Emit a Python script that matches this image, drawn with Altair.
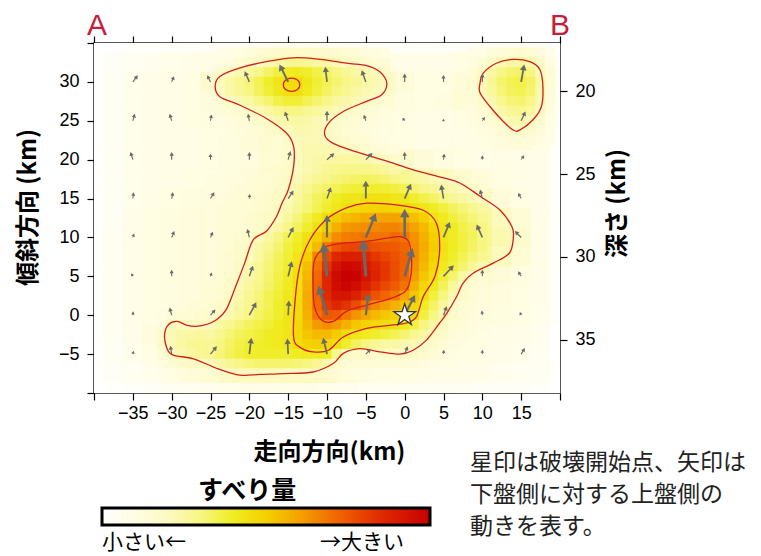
import altair as alt
import pandas as pd
import numpy as np

# ---------------- data ----------------
# coarse slip grid (2.5 km cells) over the whole fault plane
grid_x = [-40, -37.5, -35, -32.5, -30, -27.5, -25, -22.5, -20, -17.5, -15, -12.5,
          -10, -7.5, -5, -2.5, 0, 2.5, 5, 7.5, 10, 12.5, 15, 17.5, 20]
grid_y = [35, 32.5, 30, 27.5, 25, 22.5, 20, 17.5, 15, 12.5, 10, 7.5, 5, 2.5, 0,
          -2.5, -5, -7.5, -10]
slip = [
    [0, 0, 1, 1, 2, 2, 3, 3, 4, 5, 6, 6, 5, 4, 3, 2, 2, 2, 2, 3, 4, 5, 5, 4, 1],
    [1, 3, 5, 6, 7, 8, 9, 11, 14, 19, 22, 22, 21, 19, 14, 10, 8, 8, 8, 10, 13, 17, 21, 16, 3],
    [1, 4, 7, 8, 9, 10, 17, 24, 29, 36, 44, 40, 33, 28, 24, 20, 13, 10, 10, 13, 20, 28, 34, 22, 4],
    [1, 4, 7, 8, 9, 10, 12, 19, 24, 30, 35, 33, 28, 24, 20, 15, 11, 10, 11, 14, 19, 29, 33, 21, 4],
    [1, 4, 7, 8, 9, 10, 11, 13, 16, 20, 25, 25, 21, 16, 13, 11, 10, 9, 9, 10, 14, 20, 23, 16, 3],
    [1, 4, 7, 8, 9, 9, 10, 11, 13, 16, 20, 23, 21, 18, 14, 11, 10, 9, 9, 9, 10, 12, 13, 10, 2],
    [1, 4, 7, 8, 9, 9, 10, 11, 12, 15, 19, 23, 25, 25, 23, 19, 17, 13, 11, 10, 9, 9, 9, 8, 2],
    [1, 4, 7, 8, 9, 10, 10, 11, 13, 16, 20, 25, 29, 32, 33, 31, 27, 23, 21, 16, 12, 10, 9, 8, 2],
    [1, 4, 7, 9, 10, 11, 12, 13, 15, 18, 21, 27, 35, 41, 44, 44, 42, 36, 30, 25, 20, 13, 10, 8, 2],
    [1, 4, 8, 10, 11, 12, 13, 14, 16, 19, 24, 35, 46, 53, 57, 58, 56, 47, 38, 31, 26, 21, 14, 9, 2],
    [1, 5, 8, 10, 11, 12, 13, 15, 19, 24, 33, 44, 58, 68, 71, 72, 70, 58, 43, 33, 27, 23, 17, 9, 2],
    [1, 5, 8, 10, 11, 12, 14, 17, 21, 26, 36, 48, 78, 88, 85, 80, 74, 58, 42, 32, 26, 21, 15, 9, 2],
    [1, 5, 8, 10, 11, 12, 14, 17, 23, 28, 37, 50, 88, 100, 92, 84, 72, 54, 36, 25, 17, 13, 11, 8, 2],
    [1, 5, 8, 10, 11, 12, 15, 19, 26, 32, 40, 55, 82, 88, 82, 75, 66, 45, 30, 19, 14, 12, 10, 8, 2],
    [1, 5, 8, 10, 11, 14, 18, 23, 29, 34, 40, 52, 72, 69, 62, 55, 48, 36, 22, 15, 12, 11, 10, 7, 2],
    [1, 5, 8, 12, 21, 23, 26, 31, 36, 38, 42, 50, 52, 44, 38, 36, 32, 24, 16, 12, 10, 9, 8, 6, 1],
    [1, 4, 7, 10, 20, 24, 28, 33, 38, 38, 40, 43, 40, 26, 19, 19, 20, 15, 11, 10, 9, 8, 7, 5, 1],
    [1, 3, 5, 7, 10, 13, 16, 19, 21, 21, 21, 21, 19, 14, 11, 10, 10, 9, 8, 8, 7, 6, 5, 4, 1],
    [0, 1, 2, 3, 4, 5, 6, 7, 8, 8, 8, 8, 7, 6, 5, 5, 4, 4, 4, 4, 3, 3, 3, 2, 0],
]

# finer slip grids (1.25 km cells) read over the slip patches
main_x = [-25, -23.75, -22.5, -21.25, -20, -18.75, -17.5, -16.25, -15, -13.75, -12.5, -11.25,
          -10, -8.75, -7.5, -6.25, -5, -3.75, -2.5, -1.25, 0, 1.25, 2.5, 3.75, 5, 6.25, 7.5,
          8.75, 10]
main_y = [17.5, 16.25, 15, 13.75, 12.5, 11.25, 10, 8.75, 7.5, 6.25, 5, 3.75, 2.5, 1.25, 0,
          -1.25, -2.5, -3.75, -5, -6.25, -7.5]
main_slip = [
    [11, 11, 12, 12, 13, 14, 15, 17, 19, 22, 25, 27, 29, 31, 32, 33, 34, 33, 32, 30, 28, 26, 24, 22, 21, 19, 17, 15, 13],
    [11, 11, 12, 13, 14, 15, 16, 18, 20, 24, 28, 31, 33, 35, 37, 38, 39, 39, 38, 37, 35, 32, 29, 27, 25, 23, 21, 19, 16],
    [12, 12, 13, 14, 15, 16, 17, 19, 21, 26, 30, 34, 37, 40, 42, 43, 44, 44, 44, 43, 42, 39, 36, 33, 30, 27, 25, 22, 20],
    [12, 13, 14, 14, 15, 16, 18, 20, 23, 27, 31, 35, 39, 42, 45, 47, 48, 49, 49, 48, 47, 45, 43, 40, 37, 34, 31, 28, 25],
    [12, 13, 14, 15, 16, 17, 19, 21, 26, 31, 36, 41, 46, 51, 54, 56, 58, 59, 60, 60, 58, 54, 50, 44, 41, 37, 34, 31, 28],
    [12, 13, 14, 15, 16, 18, 20, 24, 29, 34, 39, 44, 50, 57, 62, 63, 64, 65, 66, 66, 64, 60, 55, 48, 43, 40, 36, 33, 30],
    [12, 13, 15, 16, 18, 21, 25, 30, 35, 39, 44, 50, 57, 64, 67, 68, 69, 69, 69, 71, 69, 63, 57, 50, 43, 40, 37, 34, 30],
    [12, 13, 15, 17, 20, 24, 28, 32, 37, 41, 46, 55, 68, 75, 78, 79, 78, 76, 75, 74, 72, 64, 58, 51, 44, 40, 37, 33, 30],
    [12, 14, 16, 18, 21, 25, 30, 34, 38, 43, 50, 66, 78, 86, 89, 89, 86, 82, 79, 76, 73, 64, 57, 49, 43, 39, 35, 31, 28],
    [12, 14, 16, 19, 23, 27, 31, 35, 39, 44, 54, 69, 83, 93, 97, 96, 91, 86, 82, 77, 73, 63, 55, 47, 41, 37, 32, 27, 22],
    [12, 14, 17, 20, 24, 28, 32, 36, 40, 45, 56, 71, 86, 96, 100, 99, 93, 87, 82, 77, 72, 61, 52, 45, 38, 32, 25, 18, 15],
    [13, 15, 18, 22, 26, 29, 33, 37, 41, 45, 57, 72, 86, 95, 98, 95, 89, 83, 78, 74, 69, 57, 48, 41, 34, 26, 19, 15, 13],
    [14, 16, 19, 23, 27, 31, 35, 38, 42, 46, 58, 72, 85, 92, 92, 88, 82, 76, 72, 68, 60, 52, 45, 37, 30, 23, 17, 14, 12],
    [15, 18, 21, 25, 28, 32, 35, 39, 42, 46, 58, 71, 82, 86, 83, 77, 70, 65, 61, 57, 53, 48, 40, 33, 26, 18, 15, 13, 12],
    [17, 20, 23, 26, 30, 33, 36, 39, 43, 46, 57, 69, 75, 74, 68, 63, 59, 55, 52, 50, 48, 46, 37, 30, 23, 17, 14, 12, 11],
    [21, 25, 28, 31, 34, 36, 38, 41, 43, 47, 55, 62, 64, 62, 57, 52, 49, 47, 46, 44, 41, 36, 30, 25, 20, 15, 13, 12, 11],
    [25, 28, 31, 34, 36, 38, 40, 41, 43, 47, 52, 55, 55, 51, 46, 43, 41, 39, 37, 35, 32, 28, 25, 21, 17, 13, 12, 11, 10],
    [27, 30, 33, 36, 38, 39, 40, 41, 42, 46, 49, 50, 48, 44, 39, 34, 30, 27, 25, 24, 23, 22, 20, 17, 14, 12, 11, 10, 10],
    [28, 31, 34, 37, 39, 39, 39, 39, 39, 40, 41, 41, 40, 28, 19, 18, 18, 18, 19, 19, 20, 19, 16, 14, 12, 11, 10, 10, 9],
    [21, 24, 27, 29, 31, 32, 32, 32, 32, 31, 30, 27, 23, 18, 15, 14, 14, 14, 14, 14, 14, 13, 12, 11, 10, 10, 9, 9, 9],
    [15, 17, 19, 21, 21, 21, 21, 21, 20, 20, 19, 18, 16, 14, 12, 11, 11, 10, 10, 10, 10, 10, 9, 9, 9, 9, 8, 8, 8],
]

topleft_x = [-23.75, -22.5, -21.25, -20, -18.75, -17.5, -16.25, -15, -13.75, -12.5, -11.25, -10,
             -8.75, -7.5, -6.25, -5, -3.75, -2.5]
topleft_y = [33.75, 32.5, 31.25, 30, 28.75, 27.5, 26.25, 25, 23.75]
topleft_slip = [
    [8, 9, 10, 12, 14, 16, 17, 18, 18, 18, 17, 17, 16, 15, 14, 12, 11, 10],
    [10, 12, 15, 17, 19, 22, 25, 27, 28, 27, 25, 24, 22, 20, 18, 16, 15, 13],
    [16, 20, 23, 26, 29, 33, 37, 40, 41, 39, 36, 33, 30, 27, 25, 23, 21, 18],
    [21, 25, 28, 31, 35, 39, 43, 46, 46, 42, 38, 35, 32, 29, 27, 25, 23, 21],
    [20, 24, 27, 30, 34, 38, 42, 45, 45, 41, 37, 33, 30, 28, 25, 23, 21, 19],
    [15, 19, 22, 25, 29, 32, 36, 38, 38, 35, 32, 29, 26, 24, 22, 20, 17, 15],
    [12, 14, 16, 19, 22, 25, 28, 30, 30, 28, 26, 24, 22, 19, 17, 15, 13, 12],
    [11, 12, 13, 15, 17, 20, 23, 25, 25, 24, 22, 21, 18, 16, 14, 13, 12, 11],
    [10, 11, 12, 13, 15, 17, 19, 21, 23, 23, 22, 20, 17, 15, 13, 12, 11, 10],
]

neck_x = [-16.25, -15, -13.75, -12.5, -11.25, -10, -8.75, -7.5, -6.25, -5, -3.75, -2.5, -1.25]
neck_y = [22.5, 21.25, 20, 18.75]
neck_slip = [
    [15, 18, 21, 22, 22, 21, 19, 17, 15, 14, 12, 11, 10],
    [15, 17, 21, 23, 23, 23, 22, 21, 19, 17, 15, 13, 12],
    [15, 17, 21, 23, 24, 25, 25, 25, 25, 24, 22, 20, 17],
    [16, 18, 21, 23, 25, 27, 28, 29, 29, 29, 28, 26, 24],
]

tail_x = [-31.25, -30, -28.75, -27.5, -26.25]
tail_y = [1.25, 0, -1.25, -2.5, -3.75, -5, -6.25, -7.5]
tail_slip = [
    [10, 11, 12, 13, 14],
    [11, 13, 15, 15, 16],
    [12, 21, 21, 20, 20],
    [17, 22, 24, 25, 26],
    [17, 22, 25, 27, 28],
    [14, 20, 23, 25, 27],
    [11, 14, 17, 19, 20],
    [8, 10, 12, 13, 14],
]

right_x = [8.75, 10, 11.25, 12.5, 13.75, 15, 16.25, 17.5, 18.75]
right_y = [33.75, 32.5, 31.25, 30, 28.75, 27.5, 26.25, 25, 23.75, 22.5]
right_slip = [
    [9, 10, 12, 14, 15, 16, 15, 12, 8],
    [11, 14, 19, 22, 24, 25, 23, 18, 11],
    [14, 20, 25, 29, 32, 33, 30, 21, 13],
    [16, 22, 27, 32, 35, 36, 33, 24, 14],
    [15, 21, 26, 31, 34, 35, 32, 23, 13],
    [13, 18, 23, 28, 31, 32, 29, 22, 12],
    [12, 15, 19, 24, 27, 28, 26, 19, 11],
    [11, 13, 15, 19, 23, 24, 21, 16, 10],
    [10, 11, 12, 15, 18, 19, 17, 13, 9],
    [9, 10, 11, 12, 13, 14, 13, 11, 8],
]

arrow_x = [-35, -30, -25, -20, -15, -10, -5, 0, 5, 10, 15]
arrow_y = [30, 25, 20, 15, 10, 5, 0, -5]
arrow_dx = [
    [0.64, 0.30, -0.43, -0.60, -1.12, -0.22, -0.53, 0.00, 0.00, 0.02, 0.39],
    [0.26, -0.26, 0.13, -0.17, -0.43, 0.00, -0.26, -0.30, 0.00, 0.34, 0.56],
    [-0.30, 0.00, 0.00, 0.00, 0.30, 0.95, 0.86, 0.00, 0.10, 0.00, 0.39],
    [0.10, 0.17, 0.50, 0.05, 0.69, 0.50, 0.00, 0.82, -0.30, -0.30, -0.39],
    [0.17, 0.34, 0.30, -0.26, 0.69, 0.00, 1.29, 0.00, 0.82, -0.73, -0.82],
    [-0.20, 0.00, 0.17, 0.47, 0.47, -0.47, -0.34, 1.03, 1.33, 0.00, -0.39],
    [0.05, -0.26, 0.64, 0.90, 0.10, -1.10, 0.34, 1.33, 0.43, -0.05, -0.17],
    [0.10, -0.17, 0.82, 0.26, -0.10, -0.50, 0.64, 0.39, 0.05, 0.00, 0.47],
]
arrow_dy = [
    [0.86, 0.73, 0.86, 1.37, 2.25, 1.96, 1.50, 1.08, 0.90, 1.08, 2.25],
    [0.90, 0.90, 0.82, 0.90, 1.20, 1.29, 0.77, 0.40, 0.26, 0.47, 1.20],
    [1.00, 1.00, 0.77, 1.00, 1.10, 0.83, 0.86, 1.00, 0.77, 0.56, 0.56],
    [0.82, 0.82, 0.82, 0.60, 1.03, 1.46, 2.30, 1.90, 1.80, 1.16, 0.73],
    [0.50, 0.82, 0.73, 1.10, 1.33, 2.90, 3.10, 3.65, 2.00, 1.67, 0.82],
    [0.40, 0.86, 0.50, 1.37, 1.93, 4.30, 4.70, 3.60, 1.42, 0.86, 0.64],
    [0.50, 1.00, 0.73, 1.67, 1.90, 3.80, 2.80, 2.60, 1.16, 0.60, 0.43],
    [0.43, 1.07, 1.00, 2.10, 2.00, 2.10, 0.64, 1.00, 0.56, 0.56, 0.77],
]

outer_x = [-15.0, -14.3, -14.3, -15.2, -17.8, -21.2, -23.8, -24.4, -23.8, -21.2, -17.8, -14.3,
           -10.9, -7.5, -4.9, -3.2, -2.3, -3.0, -4.9, -7.9, -9.8, -10.3, -9.2, -6.2, -2.3, 1.1,
           4.5, 7.1, 9.7, 12.3, 13.8, 14.0, 13.5, 11.4, 8.8, 7.5, 6.7, 5.4, 4.5, 2.8, 1.1, -0.6,
           -3.2, -5.8, -7.9, -9.2, -11.8, -15.5, -18.6, -21.2, -24.0, -27.2, -29.9, -30.7, -30.9,
           -30.4, -29.3, -28.0, -26.6, -24.6, -23.0, -21.8, -20.6, -19.5, -17.8, -16.5, -15.8]
outer_y = [16.1, 19.1, 21.7, 23.4, 25.3, 27.0, 28.1, 29.4, 30.7, 31.8, 32.6, 33.1,
           32.9, 32.4, 32.1, 31.3, 29.8, 28.3, 27.5, 26.2, 24.7, 23.2, 22.1, 21.0, 19.8, 18.7,
           17.8, 17.0, 15.3, 13.5, 11.4, 10.1, 8.0, 6.7, 5.4, 4.1, 2.4, 0.2, -1.0, -3.2, -4.5, -5.0,
           -4.7, -4.3, -4.9, -6.2, -7.3, -7.5, -7.6, -7.7, -6.9, -5.6, -5.1, -4.0, -2.4,
           -1.2, -0.8, -1.3, -1.4, -0.8, 0.7, 3.6, 6.7, 9.7, 10.8, 12.7, 14.4]
blob_x = [9.7, 10.1, 11.8, 14.0, 16.1, 17.4, 17.8, 17.6, 16.5, 14.8, 14.0, 12.7, 11.0, 9.7]
blob_y = [29.8, 31.1, 32.4, 32.9, 32.6, 31.6, 29.4, 26.8, 25.1, 23.8, 23.8, 24.9, 26.8, 28.6]
middle_x = [-14.3, -14.1, -13.5, -12.2, -10.1, -7.5, -4.9, -1.1, 2.4, 4.1, 4.5, 3.9, 2.4, 1.5,
            0.2, -1.9, -4.9, -7.9, -9.8, -11.8, -13.5]
middle_y = [-2.8, 2.0, 6.3, 9.7, 12.3, 13.8, 14.4, 14.2, 13.5, 11.8, 8.4, 5.0, 2.4, -0.2,
            -1.0, -1.3, -1.7, -2.8, -4.5, -4.7, -4.1]
inner_x = [-11.8, -11.6, -10.1, -7.5, -4.9, -2.3, -0.6, 0.5, 0.9, 0.7, 0.0, -2.3, -4.9, -7.5,
           -9.2, -10.7, -11.6]
inner_y = [4.1, 7.1, 8.8, 9.3, 9.5, 9.9, 10.1, 9.5, 7.1, 4.5, 3.0, 2.0, 1.3, 0.5,
           -0.8, -0.6, 1.1]
small_x = [-15.63, -15.32, -14.56, -13.80, -13.49, -13.80, -14.56, -15.32]
small_y = [29.63, 30.24, 30.49, 30.24, 29.63, 29.02, 28.77, 29.02]

star_x = [0.0]
star_y = [0.0]

x_ticks = [-40, -35, -30, -25, -20, -15, -10, -5, 0, 5, 10, 15, 20]
y_ticks = [-10, -5, 0, 5, 10, 15, 20, 25, 30, 35]
depth_ticks = [20, 25, 30, 35]
depth_domain = [17.08, 38.22]

slip_stops = [0, 10, 20, 30, 40, 50, 60, 72, 85, 100]
slip_colors = ['#ffffff', '#fffde2', '#fcfac2', '#f8f682', '#efed22', '#f5d000',
               '#f5a300', '#f16400', '#e02a00', '#c80000']

note_lines = ['星印は破壊開始点、矢印は', '下盤側に対する上盤側の', '動きを表す。']

# ---------------- tables ----------------
W, H = 466, 350
PX_KM = W / 60.0


def cells(xs_, ys_, vals, half):
    out = []
    for i, yv in enumerate(ys_):
        for j, xv in enumerate(xs_):
            out.append(dict(x0=xv - half, x1=xv + half, y0=yv - half, y1=yv + half,
                            slip=vals[i][j]))
    return pd.DataFrame(out)


heat_df = cells(grid_x, grid_y, slip, 1.25)
fine_df = pd.concat([cells(main_x, main_y, main_slip, 0.625),
                     cells(topleft_x, topleft_y, topleft_slip, 0.625),
                     cells(neck_x, neck_y, neck_slip, 0.625),
                     cells(tail_x, tail_y, tail_slip, 0.625),
                     cells(right_x, right_y, right_slip, 0.625)], ignore_index=True)

cont_rows = []
for cid, (cx, cy) in enumerate([(outer_x, outer_y), (blob_x, blob_y), (middle_x, middle_y),
                                (inner_x, inner_y), (small_x, small_y)]):
    for k, (a, b) in enumerate(zip(cx, cy)):
        cont_rows.append(dict(cid=cid, k=k, x=a, y=b))
cont_df = pd.DataFrame(cont_rows)

arr_rows = []
for i, yv in enumerate(arrow_y):
    for j, xv in enumerate(arrow_x):
        dx, dy = arrow_dx[i][j], arrow_dy[i][j]
        L = float(np.hypot(dx, dy))
        ux, uy = dx / L, dy / L
        w = min(2.5 + 1.9 * L, 11.0)
        back = 0.433 * w / PX_KM
        tx, ty = xv + dx, yv + dy
        hx, hy = tx - ux * back, ty - uy * back
        arr_rows.append(dict(x=xv, y=yv, xe=hx, ye=hy, hx=hx, hy=hy,
                             ang=float(np.degrees(np.arctan2(dx, dy)) % 360),
                             hs=w * w, sw=min(0.6 + 0.55 * L, 3.0)))
arr_df = pd.DataFrame(arr_rows)

# ---------------- scales / axes ----------------
xs = alt.Scale(domain=[-40, 20], nice=False, zero=False)
ys = alt.Scale(domain=[-10, 35], nice=False, zero=False)
cscale = alt.Scale(domain=slip_stops, range=slip_colors, interpolate='rgb')

LABEL_FONT = 'Liberation Sans'
JP_FONT = 'Noto Sans CJK JP'

bottom_axis = alt.Axis(orient='bottom', values=x_ticks,
                       labelExpr="datum.value == -40 || datum.value == 20 ? '' : datum.label",
                       tickSize=7, tickColor='black', tickWidth=1.2, domain=False, grid=False,
                       labelFont=LABEL_FONT, labelFontSize=18, labelColor='black', labelPadding=4,
                       title='走向方向(km)', titleFont=JP_FONT, titleFontSize=24,
                       titleFontWeight='bold', titleColor='black', titleX=235, titleY=59,
                       titleBaseline='middle')
top_axis = alt.Axis(orient='top', values=x_ticks, labels=False, tickSize=7, tickColor='black',
                    tickWidth=1.2, domain=False, grid=False, title='')
left_axis = alt.Axis(orient='left', values=y_ticks,
                     labelExpr="datum.value == -10 || datum.value == 35 ? '' : datum.label",
                     tickSize=7, tickColor='black', tickWidth=1.2, domain=False, grid=False,
                     labelFont=LABEL_FONT, labelFontSize=18, labelColor='black', labelPadding=8,
                     title='傾斜方向 (km)', titleFont=JP_FONT, titleFontSize=24,
                     titleFontWeight='bold', titleColor='black', titleAngle=270,
                     titleX=-66, titleY=164, titleBaseline='middle')
right_axis = alt.Axis(orient='right', values=depth_ticks, tickSize=7, tickColor='black',
                      tickWidth=1.2, domain=False, grid=False,
                      labelFont=LABEL_FONT, labelFontSize=18, labelColor='black', labelPadding=8,
                      title='深さ (km)', titleFont=JP_FONT, titleFontSize=24,
                      titleFontWeight='bold', titleColor='black', titleAngle=270,
                      titleX=57, titleY=160, titleBaseline='middle')

# ---------------- layers ----------------
heat = alt.Chart(heat_df).mark_rect(clip=True, strokeWidth=0.6).encode(
    x=alt.X('x0:Q', scale=xs, axis=bottom_axis),
    x2='x1:Q',
    y=alt.Y('y0:Q', scale=ys, axis=left_axis),
    y2='y1:Q',
    color=alt.Color('slip:Q', scale=cscale, legend=None),
    stroke=alt.Stroke('slip:Q', scale=cscale, legend=None),
)
fine = alt.Chart(fine_df).mark_rect(clip=True, strokeWidth=0.5).encode(
    x=alt.X('x0:Q', scale=xs, axis=None),
    x2='x1:Q',
    y=alt.Y('y0:Q', scale=ys, axis=None),
    y2='y1:Q',
    color=alt.Color('slip:Q', scale=cscale, legend=None),
    stroke=alt.Stroke('slip:Q', scale=cscale, legend=None),
)

top_layer = alt.Chart(pd.DataFrame({'v': x_ticks})).mark_point(opacity=0).encode(
    x=alt.X('v:Q', scale=xs, axis=top_axis))

right_layer = alt.Chart(pd.DataFrame({'depth': depth_ticks})).mark_point(opacity=0).encode(
    y=alt.Y('depth:Q', scale=alt.Scale(domain=depth_domain, reverse=True, nice=False, zero=False),
            axis=right_axis))

contours = alt.Chart(cont_df).mark_line(interpolate='cardinal-closed', color='#d41e1e',
                                        strokeWidth=1.3).encode(
    x=alt.X('x:Q', scale=xs, axis=None),
    y=alt.Y('y:Q', scale=ys, axis=None),
    detail='cid:N',
    order='k:Q',
)

GRAY = '#6a6a6a'
shafts = alt.Chart(arr_df).mark_rule(color=GRAY).encode(
    x=alt.X('x:Q', scale=xs, axis=None), x2='xe:Q',
    y=alt.Y('y:Q', scale=ys, axis=None), y2='ye:Q',
    strokeWidth=alt.StrokeWidth('sw:Q', scale=None),
)
heads = alt.Chart(arr_df).mark_point(shape='triangle-up', filled=True, color=GRAY, opacity=1,
                                     strokeWidth=0).encode(
    x=alt.X('hx:Q', scale=xs, axis=None),
    y=alt.Y('hy:Q', scale=ys, axis=None),
    angle=alt.Angle('ang:Q', scale=None),
    size=alt.Size('hs:Q', scale=None),
)

STAR = ('M0,-1L0.2245,-0.309L0.951,-0.309L0.363,0.118L0.588,0.809L0,0.382'
        'L-0.588,0.809L-0.363,0.118L-0.951,-0.309L-0.2245,-0.309Z')
star = alt.Chart(pd.DataFrame({'x': star_x, 'y': star_y})).mark_point(
    shape=STAR, filled=True, fill='white', stroke='#333333', strokeWidth=1.3, size=520,
    opacity=1).encode(
    x=alt.X('x:Q', scale=xs, axis=None),
    y=alt.Y('y:Q', scale=ys, axis=None),
)


def txt(text, x, y, **kw):
    return alt.Chart(pd.DataFrame({'t': [text]})).mark_text(**kw).encode(
        x=alt.value(x), y=alt.value(y), text='t:N')


label_a = txt('A', 3, -8, font=LABEL_FONT, fontSize=30, color='#c41e3a', align='center',
              baseline='alphabetic')
label_b = txt('B', 466, -8, font=LABEL_FONT, fontSize=30, color='#c41e3a', align='center',
              baseline='alphabetic')

note = [txt(line, 376, 420 + 32 * i, font=JP_FONT, fontSize=23, color='#222222',
            align='left', baseline='middle') for i, line in enumerate(note_lines)]

gradient = {"gradient": "linear", "x1": 0, "y1": 0, "x2": 1, "y2": 0,
            "stops": [{"offset": s / 100.0, "color": c} for s, c in zip(slip_stops, slip_colors)]}
cbar = alt.Chart(pd.DataFrame({'a': [0]})).mark_rect(fill=gradient, stroke='black',
                                                     strokeWidth=3).encode(
    x=alt.value(8), x2=alt.value(336), y=alt.value(465), y2=alt.value(482))
cbar_title = txt('すべり量', 153, 448, font=JP_FONT, fontSize=25, fontWeight='bold',
                 color='black', align='center', baseline='middle')
cbar_lo = txt('小さい←', 8, 500, font=JP_FONT, fontSize=21, color='black', align='left',
              baseline='middle')
cbar_hi = txt('→大きい', 310, 500, font=JP_FONT, fontSize=21, color='black', align='right',
              baseline='middle')

chart = alt.layer(
    heat, fine, top_layer, right_layer, contours, shafts, heads, star,
    label_a, label_b, *note, cbar, cbar_title, cbar_lo, cbar_hi
).resolve_scale(y='independent').resolve_axis(x='independent', y='independent').properties(
    width=W, height=H,
    padding={"left": 86, "top": 35, "right": 190, "bottom": 163},
    autosize=alt.AutoSizeParams(type='none'),
).configure_view(stroke='#222222', strokeWidth=1.5)

chart.save("out.html", embed_options={"renderer": "svg", "actions": False})
